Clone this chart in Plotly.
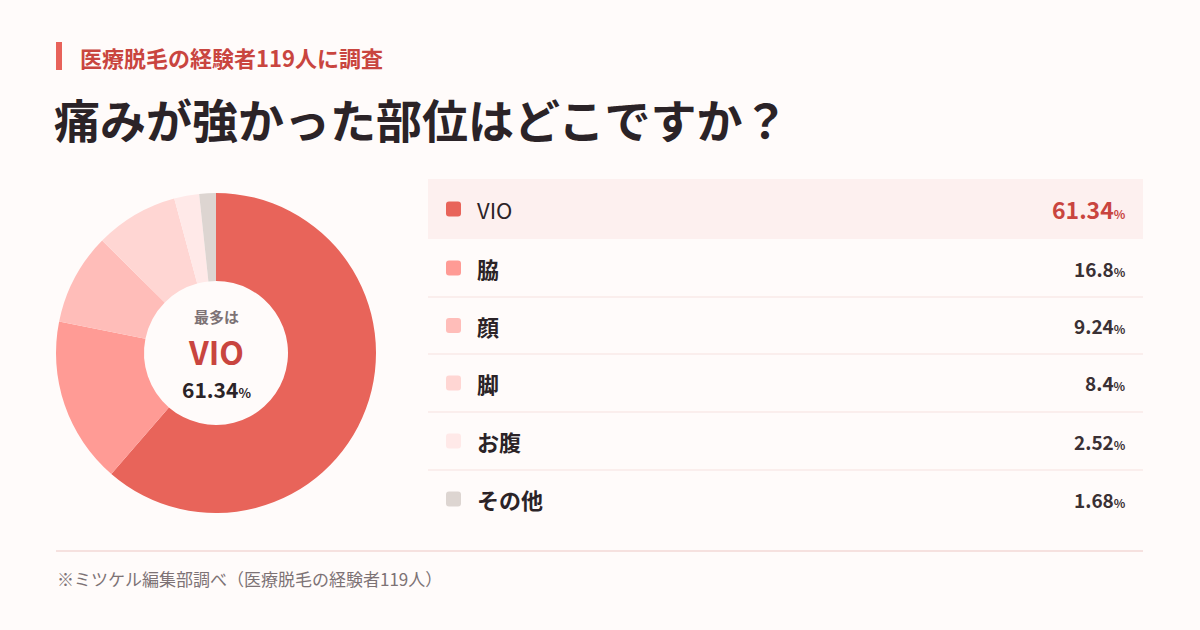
import plotly.graph_objects as go

# ---- data ----
categories = ["VIO", "脇", "顔", "脚", "お腹", "その他"]
values = [61.34, 16.8, 9.24, 8.4, 2.52, 1.68]
value_labels = ["61.34", "16.8", "9.24", "8.4", "2.52", "1.68"]
colors = ["#e8645a", "#ff9b95", "#ffbdb9", "#ffd6d3", "#ffe9e8", "#ddd5d1"]

subtitle = "医療脱毛の経験者119人に調査"
title = "痛みが強かった部位はどこですか？"
footer = "※ミツケル編集部調べ（医療脱毛の経験者119人）"

W, H = 1200, 630
BG = "#fffbfa"
FONT = "Noto Sans CJK JP"


def px(x):
    return x / W


def py(y):
    return 1 - y / H


def rounded_rect(x0, y0, x1, y1, r):
    # pixel coords (y down) -> paper path
    pts = []
    p = lambda x, y: f"{px(x):.5f},{py(y):.5f}"
    return (f"M {p(x0 + r, y0)} L {p(x1 - r, y0)} Q {p(x1, y0)} {p(x1, y0 + r)} "
            f"L {p(x1, y1 - r)} Q {p(x1, y1)} {p(x1 - r, y1)} "
            f"L {p(x0 + r, y1)} Q {p(x0, y1)} {p(x0, y1 - r)} "
            f"L {p(x0, y0 + r)} Q {p(x0, y0)} {p(x0 + r, y0)} Z")


fig = go.Figure()

# donut
fig.add_trace(go.Pie(
    labels=categories, values=values, sort=False, direction="clockwise",
    rotation=0, hole=0.45, textinfo="none", hoverinfo="label+percent",
    marker=dict(colors=colors, line=dict(width=0)),
    domain=dict(x=[px(56), px(376)], y=[py(513), py(193)]),
    showlegend=False,
))

shapes = []
ann = []

# accent bar + header
shapes.append(dict(type="rect", xref="paper", yref="paper", x0=px(56), x1=px(62),
                   y0=py(70), y1=py(42), fillcolor="#e8625a", line=dict(width=0)))
ann.append(dict(text=f"<b>{subtitle}</b>", x=px(78), y=py(57), xanchor="left", yanchor="middle",
                font=dict(family=FONT, size=22, color="#c9453f")))
ann.append(dict(text=f"<b>{title}</b>", x=px(52), y=py(118), xanchor="left", yanchor="middle",
                font=dict(family=FONT, size=46, color="#2b2327")))

# center text
ann.append(dict(text="<b>最多は</b>", x=px(216), y=py(316), xanchor="center", yanchor="middle",
                font=dict(family=FONT, size=15, color="#7d7275")))
ann.append(dict(text="<b>" + categories[0] + "</b>", x=px(216), y=py(351), xanchor="center", yanchor="middle",
                font=dict(family=FONT, size=32, color="#c9453f")))
ann.append(dict(text="<b>" + value_labels[0] + "<span style='font-size:13px'>%</span></b>",
                x=px(216), y=py(389), xanchor="center", yanchor="middle",
                font=dict(family=FONT, size=21, color="#2b2327")))

# table
row_top = [179, 239, 297, 354, 412, 470]
row_bot = [239, 297, 354, 412, 470, 528]
shapes.append(dict(type="rect", xref="paper", yref="paper", x0=px(428), x1=px(1143),
                   y0=py(row_bot[0]), y1=py(row_top[0]), fillcolor="#fdf0ef", line=dict(width=0),
                   layer="below"))
for i in range(1, len(categories) - 1):
    y = row_bot[i]
    shapes.append(dict(type="line", xref="paper", yref="paper", x0=px(428), x1=px(1143),
                       y0=py(y), y1=py(y), line=dict(color="#f6e1df", width=1)))
shapes.append(dict(type="line", xref="paper", yref="paper", x0=px(56), x1=px(1143),
                   y0=py(551), y1=py(551), line=dict(color="#f6e1df", width=2)))

for i, (cat, lab, col) in enumerate(zip(categories, value_labels, colors)):
    cy = (row_top[i] + row_bot[i]) / 2
    shapes.append(dict(type="path", xref="paper", yref="paper",
                       path=rounded_rect(446, cy - 7.5, 461, cy + 7.5, 3),
                       fillcolor=col, line=dict(width=0)))
    weight_txt = cat if i == 0 else f"<b>{cat}</b>"
    ann.append(dict(text=weight_txt, x=px(475), y=py(cy), xanchor="left", yanchor="middle",
                    font=dict(family=FONT, size=22, color="#2b2327")))
    vcol = "#c9453f" if i == 0 else "#3a3034"
    vsize = 23 if i == 0 else 19
    ann.append(dict(text=f"<b>{lab}<span style='font-size:12px'>%</span></b>", x=px(1128), y=py(cy),
                    xanchor="right", yanchor="middle",
                    font=dict(family=FONT, size=vsize, color=vcol)))

ann.append(dict(text=footer, x=px(55), y=py(578), xanchor="left", yanchor="middle",
                font=dict(family=FONT, size=17, color="#7d7275")))

for a in ann:
    a.update(xref="paper", yref="paper", showarrow=False)

fig.update_layout(
    width=W, height=H, margin=dict(l=0, r=0, t=0, b=0),
    paper_bgcolor=BG, plot_bgcolor=BG,
    shapes=shapes, annotations=ann,
    xaxis=dict(visible=False), yaxis=dict(visible=False),
)

fig.write_html("out.html", config={"displayModeBar": False},
               post_script="document.body.style.margin='0';")
